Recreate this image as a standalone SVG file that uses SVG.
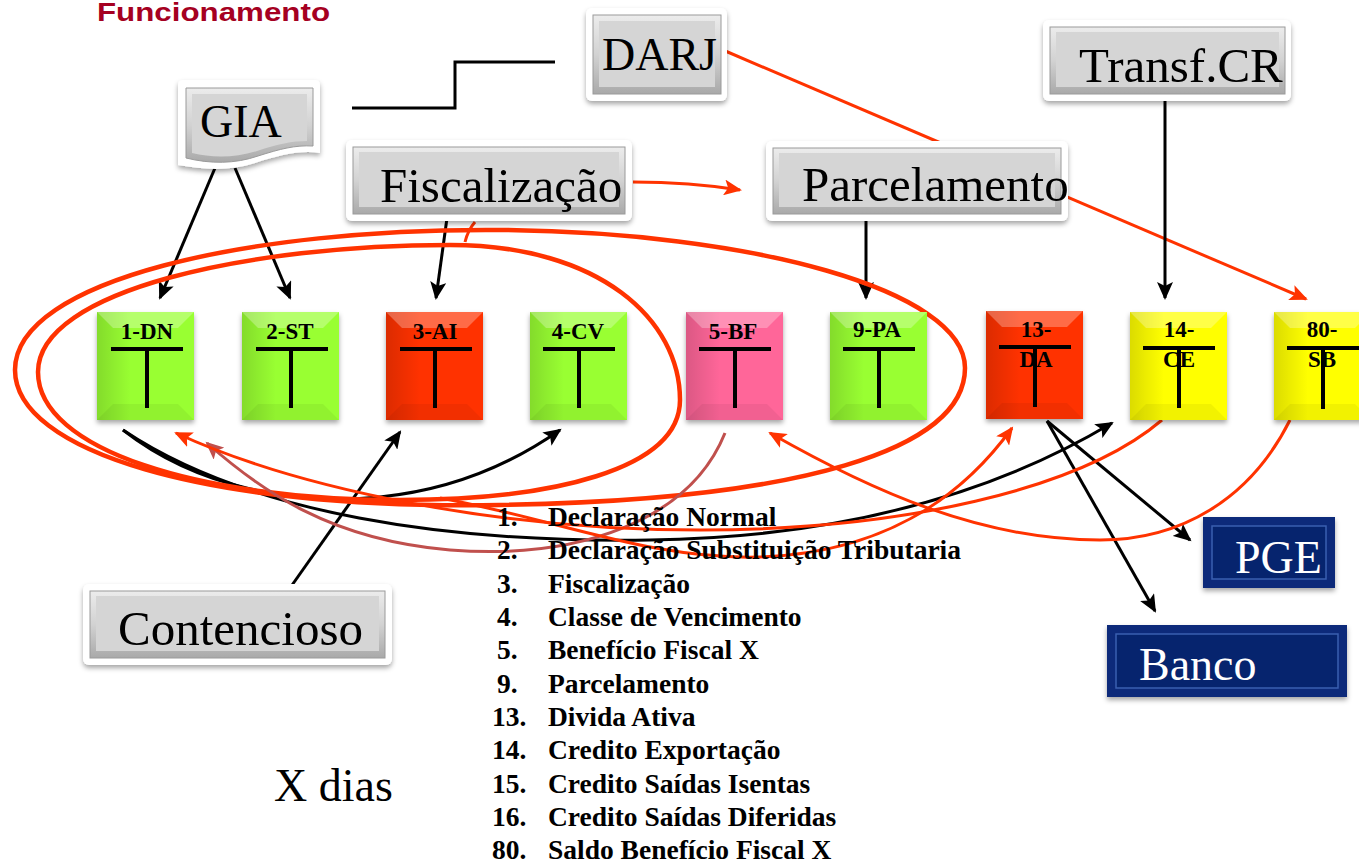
<svg xmlns="http://www.w3.org/2000/svg" width="1359" height="865" viewBox="0 0 1359 865">
<defs>
<style>
.node-t{font-family:"Liberation Serif","Times New Roman",serif;font-size:46px;fill:#000}
.big{font-size:49px}
.node-w{font-family:"Liberation Serif","Times New Roman",serif;font-size:46px;fill:#fff}
.acc{font-family:"Liberation Serif","Times New Roman",serif;font-size:23px;font-weight:bold;fill:#000;text-anchor:middle}
.leg{font-family:"Liberation Serif","Times New Roman",serif;font-size:27.5px;font-weight:bold;fill:#000}
.tbar{stroke:#000;stroke-width:4;fill:none}
.blk{stroke:#000;stroke-width:3;fill:none}
.red{stroke:#ff3300;stroke-width:3;fill:none}
.redthick{stroke:#ff3300;stroke-width:4.5;fill:none}
.frame{fill:#fff;filter:url(#sh)}
.gray{fill:url(#grayg);stroke:#9a9a9a;stroke-width:1}
.face{fill:#d5d5d5}
.navy{fill:#0a2a7a;filter:url(#sh)}
.navyin{fill:#06246e;stroke:#3a5fb0;stroke-width:1.5}
.box{filter:url(#sh)}
.hl{fill:#fff;opacity:0.28}
.dk2{fill:#000;opacity:0.05}
</style>
<filter id="sh" x="-20%" y="-20%" width="140%" height="150%">
<feDropShadow dx="0" dy="3" stdDeviation="2.5" flood-color="#000" flood-opacity="0.35"/>
</filter>
<linearGradient id="grayg" x1="0" y1="0" x2="0" y2="1">
<stop offset="0" stop-color="#ececec"/>
<stop offset="0.5" stop-color="#d2d2d2"/>
<stop offset="1" stop-color="#a9a9a9"/>
</linearGradient>
<linearGradient id="leftshade" x1="0" y1="0" x2="1" y2="0">
<stop offset="0" stop-color="#000" stop-opacity="0.14"/>
<stop offset="0.35" stop-color="#000" stop-opacity="0"/>
</linearGradient>
<marker id="ab" markerUnits="userSpaceOnUse" markerWidth="20" markerHeight="16" refX="16" refY="8" orient="auto">
<path d="M0,0 L18,8 L0,16 L4,8 Z" fill="#000"/>
</marker>
<marker id="ar" markerUnits="userSpaceOnUse" markerWidth="20" markerHeight="16" refX="16" refY="8" orient="auto">
<path d="M0,0 L18,8 L0,16 L4,8 Z" fill="#ff3300"/>
</marker>
<marker id="abr" markerUnits="userSpaceOnUse" markerWidth="20" markerHeight="16" refX="16" refY="8" orient="auto">
<path d="M0,0 L18,8 L0,16 L4,8 Z" fill="#c0504d"/>
</marker>
</defs>

<rect width="1359" height="865" fill="#fff"/>

<text x="97" y="21" font-family="'Liberation Sans',Arial,sans-serif" font-size="25" font-weight="bold" fill="#a50021" textLength="233" lengthAdjust="spacingAndGlyphs">Funcionamento</text>

<g id="connectors">
<path class="red" d="M723,50 L1306,299" marker-end="url(#ar)"/>
<path class="blk" d="M352,108 H455 V62 H555"/>
<path class="blk" d="M215,168 L160,298" marker-end="url(#ab)"/>
<path class="blk" d="M235,168 L290,298" marker-end="url(#ab)"/>
<path class="blk" d="M447,218 L436,298" marker-end="url(#ab)"/>
<path class="blk" d="M866,221 V298" marker-end="url(#ab)"/>
<path class="blk" d="M1165,97 V298" marker-end="url(#ab)"/>
<path class="blk" d="M290,588 L400,432" marker-end="url(#ab)"/>
<path class="blk" d="M1047,421 L1190,540" marker-end="url(#ab)"/>
<path class="blk" d="M1047,421 L1155,611" marker-end="url(#ab)"/>
<path class="blk" stroke-width="2.5" d="M123,430 C200,490 300,505 380,497 C450,490 510,465 560,430" marker-end="url(#ab)"/>
<path class="blk" stroke-width="2.5" d="M123,430 C250,515 450,543 650,540 C850,537 1000,490 1112,423" marker-end="url(#ab)"/>
<path class="red" d="M633,182 Q690,182 740,190" marker-end="url(#ar)"/>
<path class="redthick" d="M15,370 C15,280 250,228 500,230 C750,232 965,290 965,368 C965,450 800,500 500,505 C200,510 15,450 15,370 Z"/>
<path class="redthick" d="M38,372 C38,290 250,245 450,245 C600,245 680,320 680,400 C680,470 550,500 400,500 C200,500 38,450 38,372 Z"/>
<path class="red" d="M475,222 Q468,230 465,242"/>
<path fill="none" stroke="#c0504d" stroke-width="3" d="M725,433 C690,520 580,560 450,550 C330,540 260,490 207,443" marker-end="url(#abr)"/>
<path class="red" d="M1290,420 C1250,500 1180,540 1100,540 C980,540 870,490 770,433" marker-end="url(#ar)"/>
<path class="red" d="M1162,420 C1080,490 900,530 700,530 C500,530 300,490 176,433" marker-end="url(#ar)"/>
<path class="red" d="M440,498 C560,520 650,560 760,557 C880,553 960,500 1012,428" marker-end="url(#ar)"/>
</g>

<g id="n-gia">
<path class="frame" d="M183,80 H315 Q320,80 320,85 V153 C300,150 280,155 255,163 C230,171 205,170 178,165 V85 Q178,80 183,80 Z"/>
<path class="gray" d="M186,88 H313 V146 C295,145 280,149 258,156 C235,164 210,164 186,158 Z"/>
<path class="face" d="M192,94 H307 V141 C292,141 278,144 257,151 C235,158 212,158 192,153 Z"/>
<text class="node-t" x="200" y="137">GIA</text>
</g>

<g id="n-darj">
<rect class="frame" x="586" y="8" width="141" height="93" rx="6"/>
<rect class="gray" x="593" y="15" width="128" height="79"/>
<rect class="face" x="599" y="21" width="116" height="66"/>
<text class="node-t" x="602" y="70">DARJ</text>
</g>

<g id="n-fisc">
<rect class="frame" x="346" y="140" width="286" height="81" rx="6"/>
<rect class="gray" x="353" y="147" width="272" height="67"/>
<rect class="face" x="359" y="152" width="260" height="55"/>
<text class="node-t big" x="380" y="202">Fiscalização</text>
</g>

<g id="n-parc">
<rect class="frame" x="766" y="141" width="302" height="80" rx="6"/>
<rect class="gray" x="773" y="148" width="288" height="66"/>
<rect class="face" x="779" y="153" width="276" height="54"/>
<text class="node-t big" x="802" y="201">Parcelamento</text>
</g>

<g id="n-transf">
<rect class="frame" x="1043" y="20" width="248" height="81" rx="6"/>
<rect class="gray" x="1050" y="27" width="235" height="67"/>
<rect class="face" x="1056" y="32" width="223" height="55"/>
<text class="node-t big" x="1079" y="82">Transf.CR</text>
</g>

<g id="n-cont">
<rect class="frame" x="83" y="584" width="309" height="81" rx="6"/>
<rect class="gray" x="90" y="591" width="295" height="67"/>
<rect class="face" x="96" y="596" width="283" height="55"/>
<text class="node-t big" x="118" y="645">Contencioso</text>
</g>

<g id="n-pge">
<rect class="navy" x="1203" y="517" width="132" height="71"/>
<rect class="navyin" x="1212" y="526" width="114" height="53"/>
<text class="node-w" x="1235" y="573">PGE</text>
</g>

<g id="n-banco">
<rect class="navy" x="1107" y="625" width="240" height="72"/>
<rect class="navyin" x="1116" y="634" width="222" height="54"/>
<text class="node-w" x="1139" y="680">Banco</text>
</g>

<g id="a-1dn">
<rect class="box" x="97" y="312" width="97" height="108" fill="#99ff33"/>
<rect x="97" y="312" width="97" height="108" fill="url(#leftshade)"/>
<polygon class="hl" points="97,312 194,312 178,328 113,328"/>
<polygon class="dk2" points="97,420 194,420 178,404 113,404"/>
<text class="acc" x="147" y="339">1-DN</text>
<path class="tbar" d="M111,349 H183 M147,349 V408"/>
</g>
<g id="a-2st">
<rect class="box" x="242" y="312" width="97" height="108" fill="#99ff33"/>
<rect x="242" y="312" width="97" height="108" fill="url(#leftshade)"/>
<polygon class="hl" points="242,312 339,312 323,328 258,328"/>
<polygon class="dk2" points="242,420 339,420 323,404 258,404"/>
<text class="acc" x="290" y="339">2-ST</text>
<path class="tbar" d="M256,349 H328 M291,349 V408"/>
</g>
<g id="a-3ai">
<rect class="box" x="386" y="312" width="97" height="108" fill="#ff3300"/>
<rect x="386" y="312" width="97" height="108" fill="url(#leftshade)"/>
<polygon class="hl" points="386,312 483,312 467,328 402,328"/>
<polygon class="dk2" points="386,420 483,420 467,404 402,404"/>
<text class="acc" x="435" y="339">3-AI</text>
<path class="tbar" d="M400,349 H472 M435,349 V408"/>
</g>
<g id="a-4cv">
<rect class="box" x="530" y="312" width="97" height="108" fill="#99ff33"/>
<rect x="530" y="312" width="97" height="108" fill="url(#leftshade)"/>
<polygon class="hl" points="530,312 627,312 611,328 546,328"/>
<polygon class="dk2" points="530,420 627,420 611,404 546,404"/>
<text class="acc" x="578" y="339">4-CV</text>
<path class="tbar" d="M543,349 H615 M579,349 V408"/>
</g>
<g id="a-5bf">
<rect class="box" x="686" y="312" width="97" height="108" fill="#ff6699"/>
<rect x="686" y="312" width="97" height="108" fill="url(#leftshade)"/>
<polygon class="hl" points="686,312 783,312 767,328 702,328"/>
<polygon class="dk2" points="686,420 783,420 767,404 702,404"/>
<text class="acc" x="733" y="339">5-BF</text>
<path class="tbar" d="M699,349 H771 M735,349 V408"/>
</g>
<g id="a-9pa">
<rect class="box" x="830" y="312" width="97" height="108" fill="#99ff33"/>
<rect x="830" y="312" width="97" height="108" fill="url(#leftshade)"/>
<polygon class="hl" points="830,312 927,312 911,328 846,328"/>
<polygon class="dk2" points="830,420 927,420 911,404 846,404"/>
<text class="acc" x="877" y="337">9-PA</text>
<path class="tbar" d="M843,349 H915 M879,349 V408"/>
</g>
<g id="a-13da">
<rect class="box" x="986" y="311" width="97" height="108" fill="#ff3300"/>
<rect x="986" y="311" width="97" height="108" fill="url(#leftshade)"/>
<polygon class="hl" points="986,311 1083,311 1067,327 1002,327"/>
<polygon class="dk2" points="986,419 1083,419 1067,403 1002,403"/>
<text class="acc" x="1036" y="337">13-</text>
<text class="acc" x="1036" y="367">DA</text>
<path class="tbar" d="M999,347 H1071 M1035,347 V407"/>
</g>
<g id="a-14ce">
<rect class="box" x="1130" y="312" width="97" height="108" fill="#ffff00"/>
<rect x="1130" y="312" width="97" height="108" fill="url(#leftshade)"/>
<polygon class="hl" points="1130,312 1227,312 1211,328 1146,328"/>
<polygon class="dk2" points="1130,420 1227,420 1211,404 1146,404"/>
<text class="acc" x="1179" y="337">14-</text>
<text class="acc" x="1179" y="367">CE</text>
<path class="tbar" d="M1143,348 H1215 M1179,348 V408"/>
</g>
<g id="a-80sb">
<rect class="box" x="1274" y="312" width="97" height="108" fill="#ffff00"/>
<rect x="1274" y="312" width="97" height="108" fill="url(#leftshade)"/>
<polygon class="hl" points="1274,312 1371,312 1355,328 1290,328"/>
<polygon class="dk2" points="1274,420 1371,420 1355,404 1290,404"/>
<text class="acc" x="1322" y="337">80-</text>
<text class="acc" x="1322" y="367">SB</text>
<path class="tbar" d="M1287,348 H1359 M1323,348 V409"/>
</g>

<g id="legend">
<text class="leg" x="497" y="526">1.</text><text class="leg" x="548" y="526">Declaração Normal</text>
<text class="leg" x="497" y="559">2.</text><text class="leg" x="548" y="559">Declaração Substituição Tributaria</text>
<text class="leg" x="497" y="593">3.</text><text class="leg" x="548" y="593">Fiscalização</text>
<text class="leg" x="497" y="626">4.</text><text class="leg" x="548" y="626">Classe de Vencimento</text>
<text class="leg" x="497" y="659">5.</text><text class="leg" x="548" y="659">Benefício Fiscal X</text>
<text class="leg" x="497" y="693">9.</text><text class="leg" x="548" y="693">Parcelamento</text>
<text class="leg" x="492" y="726">13.</text><text class="leg" x="548" y="726">Divida Ativa</text>
<text class="leg" x="492" y="759">14.</text><text class="leg" x="548" y="759">Credito Exportação</text>
<text class="leg" x="492" y="793">15.</text><text class="leg" x="548" y="793">Credito Saídas Isentas</text>
<text class="leg" x="492" y="826">16.</text><text class="leg" x="548" y="826">Credito Saídas Diferidas</text>
<text class="leg" x="492" y="859">80.</text><text class="leg" x="548" y="859">Saldo Benefício Fiscal X</text>
</g>

<text class="node-t" x="274" y="801">X dias</text>
</svg>
